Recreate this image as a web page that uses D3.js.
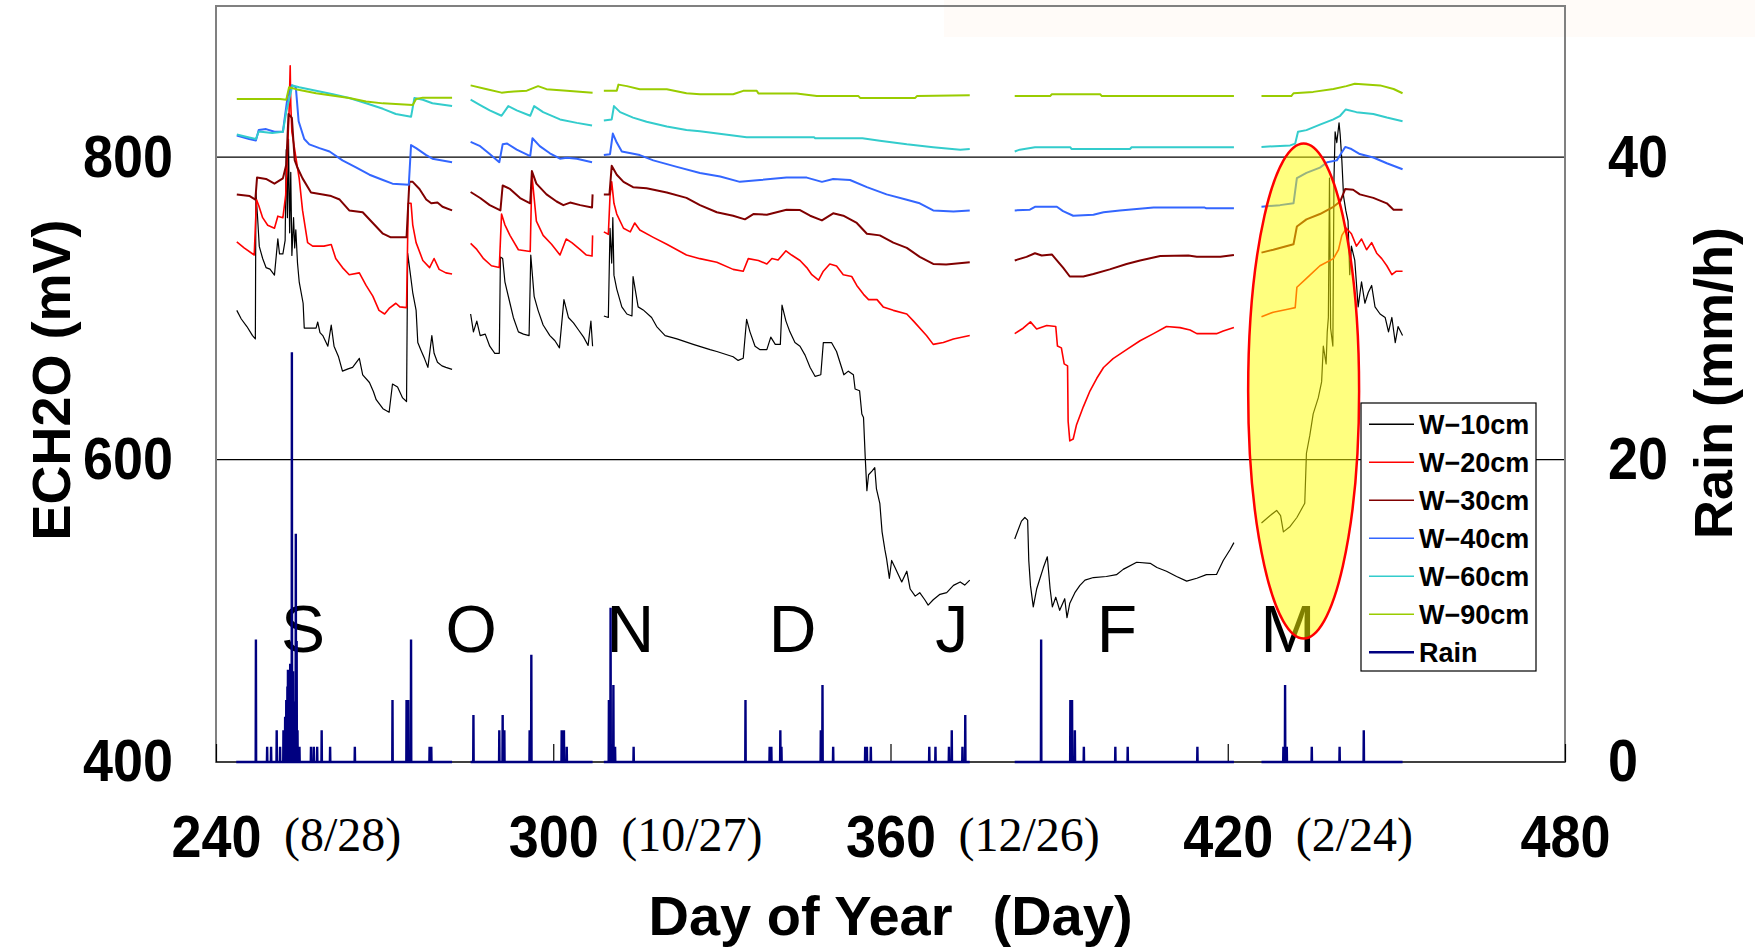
<!DOCTYPE html>
<html>
  <head>
    <meta charset="utf-8">
    <title>ECH2O and rain</title>
    <script src="https://d3js.org/d3.v7.min.js"></script>
    <style>
      body { margin: 0; background: white; }
      svg { display: block; }
    </style>
  </head>
  <body>
    <svg id="chart" width="1755" height="947"></svg>
    <script>
      // ---- data (day of year, mV) ; null = logger gap
      const w10 = [
        [243.7,698.7],[244.5,693],[245.5,688],[246.5,682],[247.0,679.8],[247.1,776.6],[247.4,760],[247.7,741],[248.3,733],[248.9,727],[249.6,726],[250.4,722],[251.0,746],[251.3,736],[251.9,736],[252.3,745],[252.5,805],[252.7,760],[252.9,812],[253.1,750],[253.3,790],[253.5,735],[253.8,760],[254.0,740],[254.2,752],[254.5,730],[254.8,717.6],[255.5,703.4],[255.7,687],[257.0,687],[257.8,687],[258.1,691],[258.5,684],[259.0,682],[259.9,675],[260.5,689],[261.0,675],[261.8,668],[262.5,658.5],[263.5,660],[264.3,661],[265.5,667],[266.1,656],[267.3,651],[268.0,645],[268.5,639.6],[269.7,633.7],[270.8,631.3],[271.4,650],[272.3,648],[273.2,640.8],[273.9,638.4],[274.1,736.5],[274.5,725],[275.0,710.5],[275.6,698.7],[275.9,677.4],[276.5,672],[277.1,666.8],[277.7,661],[278.4,682],[278.8,670.3],[279.4,664.4],[280.2,662],[280.9,661],[282.0,659.7],
        null,
        [285.3,696.3],[285.8,684.5],[286.4,691.6],[287.0,682],[287.9,683],[288.7,675],[289.6,670.3],[290.4,670.3],[290.6,734],[291.0,733],[291.4,717.6],[292.3,703.4],[292.9,694],[293.8,684.5],[294.7,683],[295.7,682],[296.0,735.3],[296.6,708],[297.3,698.7],[298.2,689],[299.4,682],[300.3,678.6],[301.1,673.9],[301.9,705.8],[302.7,694],[303.6,690.4],[304.5,685.7],[305.4,681],[306.2,675.5],[306.7,691.6],[307.0,675],
        null,
        [309.0,695],[309.8,694],[310.1,753],[310.4,730],[310.6,760],[310.8,722],[311.3,712.8],[312.2,701],[313.1,696.3],[314.0,695],[314.2,721],[315.1,701],[316.0,699],[317.5,694],[318.4,688],[319.9,682],[322.0,679.8],[324.9,676.2],[327.9,672.7],[329.1,671.5],[332.0,668],[332.9,665.6],[333.8,667],[334.4,692.8],[335.0,684.5],[335.9,675],[336.8,672.7],[338.0,672.7],[338.7,681],[339.5,676.2],[340.4,676.2],[340.7,702.2],[341.4,691.6],[342.1,684.5],[343.0,677.4],[343.9,675],[344.8,669.1],[345.7,660.9],[346.6,655],[347.6,656.1],[348.05,677.4],[349.5,677.4],[350.4,671.5],[351.3,660.9],[351.7,656.1],[352.5,658.5],[353.4,656.1],[353.7,646.7],[354.5,645.5],[354.9,630.2],[355.2,627.8],[355.5,601.8],[355.8,579.4],[356.1,590],[356.7,592.4],[357.2,594.7],[357.5,580.6],[358.1,571.1],[358.5,552.2],[359.0,540.4],[359.3,534.5],[359.8,521.5],[360.2,533.3],[360.8,528.6],[361.4,523.9],[362.0,519.1],[362.9,526.2],[363.5,514.4],[364.4,509.7],[365.2,512],[366.1,507.3],[366.7,503.8],[367.6,507.3],[368.8,510.9],[370.0,512],[371.2,516.8],[372.4,519.1],[373.2,517],[374.1,520.3],
        null,
        [382.1,547.5],[382.7,553.4],[383.3,559.3],[383.9,561.7],[384.4,560],[384.6,533.3],[384.9,516.8],[385.4,502.6],[386.0,514.4],[386.6,521.5],[387.2,528.6],[387.9,535.7],[388.4,514.4],[388.8,502.6],[389.4,509],[390.1,500.3],[391.0,508],[391.4,495.5],[391.9,505],[392.8,512],[393.7,516.8],[394.6,520.3],[396.1,522],[398.4,522.7],[400.2,523.9],[401.4,527.4],[403.8,532.1],[406.2,531.4],[407.4,528.6],[409.1,526.2],[410.9,522.7],[412.7,519.6],[414.5,521.5],[416.2,523.9],[418.0,524],[419.2,533.3],[420.4,540.4],[421.1,545.1],
        null,
        [426.0,558.1],[427.5,562.9],[428.7,566.4],[429.4,562.9],[429.9,552.2],[431.1,555.8],[432.3,561.7],[433.7,571.1],[434.0,604.2],[434.6,616],[435.2,630.2],[436.1,640.8],[436.7,651.4],[437.0,675.1],[437.5,663.3],[437.7,684.5],[437.9,693.9],[438.1,786.1],[438.3,686.9],[438.7,675.1],[438.9,786.1],[439.1,816.8],[439.4,809.7],[439.8,822.7],[440.0,815],[440.3,797.9],[440.6,774.3],[441.0,764.8],[441.4,757.7],[441.7,722.3],[442.0,741.2],[442.6,731.7],[443.2,701],[443.8,717.6],[444.4,703.4],[445.0,710.5],[445.6,715.2],[446.2,701],[447.1,696.3],[448.0,694],[448.6,684.5],[449.2,694],[449.8,677.4],[450.3,688],[451.1,682.1]
      ];
      const w20 = [
        [243.7,744],[245.0,740],[246.8,735.3],[247.2,772],[247.6,768],[248.3,760],[249.2,755],[250.4,753],[251.0,761],[251.9,760],[252.4,775],[252.75,807],[253.0,830],[253.2,860.5],[253.3,835],[253.5,816.8],[254.0,805],[254.2,800],[254.8,786],[255.4,764.8],[256.3,743.5],[257.2,741.2],[259.2,741.2],[260.5,742.3],[261.3,733],[262.5,727],[263.7,722.3],[265.5,723.5],[266.7,715.2],[267.9,708.1],[269.0,698.7],[270.0,696.3],[270.8,700],[272.0,703.4],[272.7,701],[273.9,700.5],[274.2,769.5],[274.7,769.5],[275.0,755.3],[275.6,743.5],[276.8,731.7],[278.0,727],[278.8,733],[279.7,725.8],[280.9,723.5],[282.0,722.8],
        null,
        [285.3,743],[286.4,739],[287.6,732.9],[289.0,728.2],[290.4,727],[290.8,762.4],[291.4,755.3],[292.3,748.3],[293.8,738.8],[295.9,737.6],[296.2,788.4],[297.0,757.7],[298.2,748.3],[299.7,742.4],[301.2,735.3],[302.3,745.9],[303.3,743.5],[304.8,738.8],[305.9,735.3],[306.9,734.6],[307.0,748.3],
        null,
        [309.0,750.6],[309.8,749],[310.1,774.3],[310.4,783.7],[310.8,769.5],[311.3,762.4],[312.5,753],[313.7,750.6],[314.5,756.5],[315.4,751.8],[317.8,747],[320.2,742.4],[323.7,735.3],[326.1,732.9],[329.1,730.5],[332.0,725.8],[333.8,724.6],[334.7,732.9],[336.5,731.7],[338.0,729.4],[338.9,733],[340.0,732],[341.4,738.1],[342.4,735.3],[343.9,731.7],[345.1,727],[346.0,722.3],[347.2,718.7],[348.05,724.6],[349.2,729.4],[350.4,728],[351.6,722.3],[353.1,721.1],[354.0,715.2],[355.2,709.3],[356.1,705.8],[357.6,705.8],[358.7,701],[360.5,698.7],[362.9,696.3],[364.1,691.6],[366.4,682.1],[367.6,676.2],[369.4,677.4],[371.2,679.8],[374.1,682.1],
        null,
        [382.1,683.3],[383.6,686.9],[384.9,691.1],[386.0,686.4],[387.8,688.7],[389.4,688],[389.7,675.1],[390.4,673.9],[390.9,663.3],[391.5,662],[391.6,625.4],[391.9,612.4],[392.5,613.6],[393.1,623.1],[394.3,634.9],[395.5,645.5],[396.7,653.8],[397.9,660.9],[399.6,666.8],[402.0,672.7],[404.4,678.6],[406.8,683.3],[409.1,688],[411.5,687.3],[413.3,685.7],[414.5,683.3],[418.0,683.3],[419.2,685],[421.1,687.3],
        null,
        [426.0,694.4],[428.1,697.5],[431.1,699.8],[432.0,700.5],[432.3,714],[434.0,719.9],[436.4,728.2],[438.8,732.9],[439.7,738.8],[440.3,748.3],[441.1,753],[442.0,749.4],[442.9,741.2],[443.8,745.9],[444.7,738.8],[445.6,743.5],[446.5,736.5],[447.4,732.9],[448.3,728.2],[449.2,722.3],[450.0,724.6],[451.1,724.6]
      ];
      const w30 = [
        [243.7,775.4],[246.0,774.3],[247.0,772],[247.3,786.5],[248.9,785.6],[250.4,782.5],[251.9,786],[252.5,795],[252.9,828.6],[253.5,826],[254.0,798],[254.5,793],[255.4,786],[256.9,776.6],[259.0,775.4],[260.5,774.3],[262.0,772],[263.7,764.8],[266.1,763.6],[267.9,756.5],[269.7,749.4],[271.1,747],[273.9,747],[274.4,783.7],[275.0,783.7],[276.2,779],[277.4,772],[278.3,769.5],[279.4,770],[280.3,767.2],[282.0,764.8],
        null,
        [285.3,777],[287.0,773],[288.7,768.3],[290.6,764.8],[291.0,781.3],[292.3,779],[294.1,773],[295.9,769.5],[296.2,790.8],[297.0,782.5],[298.8,775.4],[300.6,770.7],[301.8,768.3],[303.0,770],[304.8,768.3],[306.9,766.7],[307.0,775.4],
        null,
        [309.0,775.4],[310.0,775.4],[310.4,794.3],[311.3,788.4],[312.5,783.7],[314.2,780.2],[316.6,779.5],[320.2,776.6],[323.7,773.1],[326.1,768.3],[329.1,763.6],[332.0,761.3],[334.1,758.9],[335.6,762.4],[338.0,762],[341.5,765.3],[343.9,765],[345.7,761.3],[347.8,758.2],[349.8,762.9],[351.6,761.3],[354.0,756.5],[355.8,749.4],[358.1,748.3],[360.5,743.5],[362.9,740],[365.2,734.1],[367.6,729.4],[369.9,729],[374.1,730.5],
        null,
        [382.1,731.7],[384.2,734.1],[385.7,736.5],[386.9,735],[388.7,735.7],[389.9,730.5],[390.7,727],[391.9,721.1],[394.3,721.1],[396.1,722.7],[399.0,725.8],[402.0,729.4],[404.4,731.7],[408.0,734.6],[413.0,735],[414.5,734.1],[418.7,734.1],[421.1,735.3],
        null,
        [426.0,736.9],[428.1,738.8],[431.7,742.4],[432.3,754.2],[434.0,758.9],[436.4,762.4],[438.8,767.2],[440.0,770.7],[440.9,779],[442.3,778.5],[443.5,775.4],[445.9,773.1],[448.3,769.5],[449.5,765.3],[451.1,765.3]
      ];
      const w40 = [
        [243.7,814.4],[245.9,812],[247.1,811],[247.6,818],[248.9,818.6],[250.4,816.8],[251.9,816.8],[252.75,840.4],[253.5,847.5],[254.2,846.3],[254.7,823.8],[255.7,812],[256.6,808.5],[258.4,806],[260.2,803.8],[262.5,797.9],[264.9,793.2],[267.3,788.4],[269.7,784.9],[271.4,782.5],[274.3,781.8],[274.7,808],[275.6,806],[277.4,801.4],[278.5,799],[282.0,796.7],
        null,
        [285.3,810.1],[287.0,807.3],[288.7,802.1],[290.4,796.7],[291.0,808.5],[291.8,809],[293.5,805],[295.9,800.7],[296.3,812.5],[297.6,807.3],[299.4,802.6],[301.2,799],[302.4,799.7],[304.2,799],[306.9,796.7],
        null,
        [309.0,801.4],[310.1,802],[310.6,815.6],[311.3,809.7],[312.2,803.8],[315.4,801.4],[317.8,797.9],[322.0,793.6],[326.1,789.6],[329.7,787.2],[333.2,783.7],[336.8,784.9],[341.5,786.5],[345.1,786.5],[347.8,783.7],[349.8,785.6],[352.8,784.9],[355.8,780.2],[359.3,775.4],[362.9,771.9],[365.2,769.5],[367.6,764.8],[371.2,764.1],[374.1,764.8],
        null,
        [382.1,764.8],[384.8,765.3],[385.7,767.2],[389.6,767.2],[390.7,764.3],[392.5,761.3],[396.1,762],[397.9,763.6],[400.8,764.8],[406.8,766.7],[415.9,766.7],[416.2,766.2],[421.1,766.2],
        null,
        [426.0,767.2],[429.3,768.3],[431.7,769.5],[432.3,786.1],[434.0,789.6],[436.4,793.1],[437.7,796.7],[439.4,797.9],[440.0,801.4],[440.9,806.8],[442.0,805.4],[443.5,802.1],[445.9,799.8],[448.3,796],[451.1,792]
      ];
      const w60 = [
        [243.7,815],[245.9,813],[247.1,812],[247.6,817],[250.0,816],[251.9,816.8],[252.5,830],[253.6,847.5],[254.8,846.3],[257.8,844],[260.8,841.6],[263.7,839.2],[266.7,835.7],[269.7,832],[272.0,828.6],[274.7,826.7],[275.3,839.2],[276.8,838],[278.5,835.7],[282.0,833.8],
        null,
        [285.3,838],[287.0,834.5],[288.7,831],[290.8,827.4],[292.0,833.8],[293.5,831],[295.9,827.4],[296.6,833.8],[298.2,829.8],[301.2,825],[304.2,822.7],[306.9,821],
        null,
        [309.0,824.3],[310.4,825],[310.8,833.8],[311.9,829.8],[314.2,826.2],[316.6,823.4],[320.2,820.3],[323.7,818],[326.1,817.2],[332.0,814.4],[334.4,813.2],[346.4,813.2],[346.6,812.5],[355.0,812.5],[358.1,810.9],[362.9,808.5],[367.6,806.6],[372.4,805],[374.1,805.4],
        null,
        [382.1,803.8],[383.0,805],[385.7,806.6],[392.0,806.6],[392.2,805.4],[402.6,805.4],[402.9,806.6],[421.1,806.6],
        null,
        [426.0,806.8],[431.1,807.8],[432.0,809],[432.5,816.8],[434.0,817.9],[436.4,821.5],[438.8,825],[440.0,827.4],[441.0,831.6],[442.9,829.8],[445.9,828.6],[448.3,826.2],[451.1,823.8]
      ];
      const w90 = [
        [243.7,838.5],[251.4,838.5],[252.5,838],[253.0,846.3],[254.2,845],[257.8,842.3],[263.7,839.2],[266.7,836.8],[269.7,835.6],[275.0,834.5],[275.6,838.5],[276.8,839.4],[282.0,839.4],
        null,
        [285.3,847.5],[288.2,845],[290.8,842.7],[293.0,843.5],[295.3,844],[297.3,847],[298.8,845],[302.4,844],[307.0,842.7],
        null,
        [309.0,844],[311.3,844],[311.6,848],[313.1,847],[315.4,845],[320.2,845],[323.7,842.3],[326.1,841.6],[332.0,841.6],[333.8,843.9],[336.2,843.9],[336.5,842.2],[343.3,842.2],[346.9,840.4],[354.3,840.4],[354.6,839.2],[364.4,839.2],[364.7,840.4],[374.1,840.9],
        null,
        [382.1,840.4],[388.4,840.4],[388.7,841.6],[397.3,841.6],[397.6,840.4],[421.1,840.4],
        null,
        [426.0,840.4],[431.3,840.4],[431.7,842.3],[435.2,843.2],[438.8,845.1],[441.1,847],[442.6,848.6],[447.1,847.5],[449.5,845.1],[451.1,842.3]
      ];
      // rain events (day, mm/h) and logged periods
      const rain = [
        [247.1,8.1],[249.1,1.0],[249.8,1.0],[250.8,2.1],[251.4,1.0],
        [252.0,2.1],[252.3,3.0],[252.5,4.1],[252.7,5.0],[252.8,6.1],[253.0,4.0],[253.2,6.5],[253.5,27.1],[253.7,6.0],[253.9,4.0],[254.2,15.1],[254.35,8.0],[254.5,2.1],[254.85,1.0],
        [256.9,1.0],[257.4,1.0],[258.0,1.0],[258.8,2.1],[260.3,1.0],[264.7,1.0],
        [271.4,4.1],[273.9,4.1],[274.2,4.1],[274.7,8.1],[278.0,1.0],[278.3,1.0],
        [285.8,3.1],[290.4,2.1],[291.0,3.1],[291.3,2.1],[295.8,2.1],[296.1,7.1],[301.5,2.1],[301.9,2.1],[302.4,1.0],
        [309.9,4.1],[310.2,10.2],[310.7,5.1],[311.0,1.0],[314.3,1.0],
        [334.2,4.1],[338.5,1.0],[338.8,1.0],[340.4,2.1],[340.6,1.0],[347.6,2.1],[347.9,5.1],[349.8,1.0],
        [355.5,1.0],[355.8,1.0],[356.5,1.0],[366.9,1.0],[368.0,1.0],[370.4,1.0],[370.9,2.1],[372.8,1.0],[373.3,3.1],
        [386.8,8.1],[392.0,4.1],[392.3,4.1],[392.8,2.1],[394.4,1.0],[400.0,1.0],[402.2,1.0],[414.6,1.0],
        [429.9,1.0],[430.2,5.1],[430.5,1.0],[434.95,1.0],[439.9,1.0],[444.2,2.1]
      ];
      const segments = [[243.6,282.0],[285.3,307.0],[309.0,374.1],[382.1,421.1],[426.0,451.1]];

      // axis ticks and labels
      const xTicks = [240, 300, 360, 420, 480];
      const dateLabels = ["(8/28)", "(10/27)", "(12/26)", "(2/24)", ""];
      const leftTicks = [400, 600, 800];
      const rightTicks = [0, 20, 40];
      const gridValues = [600, 800];
      const months = ["S", "O", "N", "D", "J", "F", "M"];
      const monthDays = [255.5, 285.4, 313.7, 342.6, 370.9, 400.3, 430.7];
      const seriesNames = ["W−10cm", "W−20cm", "W−30cm", "W−40cm", "W−60cm", "W−90cm", "Rain"];
      const seriesColors = ["#000000", "#FF0000", "#800000", "#3366FF", "#33CCCC", "#99CC00", "#000080"];
      // highlighted zone (day, mV centre and radii)
      const highlight = { day: 433.5, mV: 645.4, rDay: 9.87, rMV: 163.7 };

      const sans = "'Liberation Sans', Arial, sans-serif";
      const serif = "'Liberation Serif', 'Times New Roman', serif";
      const plot = { left: 216, right: 1565, top: 6, bottom: 762 };

      const svg = d3.select("#chart");
      const x = d3.scaleLinear().domain([240, 480]).range([plot.left, plot.right]);
      const y = d3.scaleLinear().domain([400, 900]).range([plot.bottom, plot.top]);
      const yR = d3.scaleLinear().domain([0, 50]).range([plot.bottom, plot.top]);

      // faint shaded strip at top
      svg.append("rect")
        .attr("x", 944).attr("y", 0)
        .attr("width", 811).attr("height", 37)
        .attr("fill", "#FFFBF8");

      // gridlines
      svg.selectAll(".grid")
        .data(gridValues)
        .enter().append("line")
          .attr("x1", plot.left).attr("x2", plot.right)
          .attr("y1", d => y(d)).attr("y2", d => y(d))
          .attr("stroke", "#000").attr("stroke-width", 1.3);

      // frame
      svg.append("rect")
        .attr("x", plot.left).attr("y", plot.top)
        .attr("width", plot.right - plot.left).attr("height", plot.bottom - plot.top)
        .attr("fill", "none").attr("stroke", "#808080").attr("stroke-width", 2);
      svg.append("line")
        .attr("x1", plot.left).attr("x2", plot.right)
        .attr("y1", plot.bottom).attr("y2", plot.bottom)
        .attr("stroke", "#404040").attr("stroke-width", 2);

      // bottom axis: inward ticks, bold numbers
      const xAxis = d3.axisBottom(x)
        .tickValues(xTicks)
        .tickSizeInner(-18).tickSizeOuter(0)
        .tickPadding(53)
        .tickFormat(d3.format("d"));
      const gx = svg.append("g")
        .attr("transform", "translate(0," + plot.bottom + ")")
        .call(xAxis);
      gx.select(".domain").remove();
      gx.selectAll("line").attr("stroke", "#000").attr("stroke-width", 1.2);

      // left and right value axes
      const gl = svg.append("g")
        .attr("transform", "translate(" + plot.left + ",0)")
        .call(d3.axisLeft(y).tickValues(leftTicks).tickSize(0).tickPadding(43));
      const gr = svg.append("g")
        .attr("transform", "translate(" + plot.right + ",0)")
        .call(d3.axisRight(yR).tickValues(rightTicks).tickSize(0).tickPadding(43));
      [gl, gr].forEach(g => g.select(".domain").remove());
      [gx, gl, gr].forEach(g => {
        g.attr("font-family", sans).attr("font-size", 59);
        g.selectAll("text")
          .attr("font-weight", "bold")
          .attr("fill", "#000")
          .attr("textLength", d => String(d).length * 30)
          .attr("lengthAdjust", "spacingAndGlyphs");
      });

      // date labels next to day ticks
      svg.selectAll(".date")
        .data(xTicks.map((t, i) => ({ t: t, label: dateLabels[i] })).filter(d => d.label))
        .enter().append("text")
          .attr("x", d => x(d.t) + 68)
          .attr("y", 851)
          .attr("font-family", serif)
          .attr("font-size", 48)
          .text(d => d.label);

      // axis titles
      svg.append("text")
        .attr("x", (plot.left + plot.right) / 2)
        .attr("y", 935)
        .attr("text-anchor", "middle")
        .attr("font-family", sans).attr("font-size", 56).attr("font-weight", "bold")
        .text("Day of Year")
        .append("tspan").attr("dx", 40).text("(Day)");
      svg.append("text")
        .attr("transform", "translate(70,380) rotate(-90)")
        .attr("text-anchor", "middle")
        .attr("font-family", sans).attr("font-size", 54).attr("font-weight", "bold")
        .text("ECH2O (mV)");
      svg.append("text")
        .attr("transform", "translate(1732,383) rotate(-90)")
        .attr("text-anchor", "middle")
        .attr("font-family", sans).attr("font-size", 54).attr("font-weight", "bold")
        .text("Rain (mm/h)");

      // month letters
      svg.selectAll(".month")
        .data(months)
        .enter().append("text")
          .attr("x", (d, i) => x(monthDays[i]))
          .attr("y", 652)
          .attr("text-anchor", "middle")
          .attr("font-family", sans).attr("font-size", 66)
          .text(d => d);

      // soil moisture lines
      const line = d3.line()
        .defined(d => d !== null)
        .x(d => x(d[0]))
        .y(d => y(d[1]));
      const series = [w10, w20, w30, w40, w60, w90];
      const widths = [1.2, 1.6, 2, 2, 2, 2];
      series.forEach((s, i) => {
        svg.append("path")
          .datum(s)
          .attr("d", line)
          .attr("fill", "none")
          .attr("stroke", seriesColors[i])
          .attr("stroke-width", widths[i])
          .attr("stroke-linejoin", "round");
      });

      // rain spikes along each logged period
      const rainPts = [];
      segments.forEach(seg => {
        rainPts.push([seg[0], 0]);
        rain.filter(r => r[0] >= seg[0] && r[0] <= seg[1]).forEach(r => {
          rainPts.push([r[0] - 0.04, 0], [r[0], r[1]], [r[0] + 0.04, 0]);
        });
        rainPts.push([seg[1], 0], null);
      });
      svg.append("path")
        .datum(rainPts)
        .attr("d", d3.line().defined(d => d !== null).x(d => x(d[0])).y(d => yR(d[1])))
        .attr("fill", "none")
        .attr("stroke", seriesColors[6])
        .attr("stroke-width", 2.4);

      // highlighted ellipse
      svg.append("ellipse")
        .attr("cx", x(highlight.day))
        .attr("cy", y(highlight.mV))
        .attr("rx", x(highlight.day + highlight.rDay) - x(highlight.day))
        .attr("ry", y(highlight.mV - highlight.rMV) - y(highlight.mV))
        .attr("fill", "#FFFF00").attr("fill-opacity", 0.5)
        .attr("stroke", "#FF0000").attr("stroke-width", 2.5);

      // legend
      const legend = svg.append("g").attr("transform", "translate(1361,403)");
      legend.append("rect")
        .attr("width", 175).attr("height", 268)
        .attr("fill", "white").attr("stroke", "#000").attr("stroke-width", 1.2);
      const items = legend.selectAll(".item")
        .data(seriesNames)
        .enter().append("g")
          .attr("transform", (d, i) => "translate(0," + (21.3 + i * 38) + ")");
      items.append("line")
        .attr("x1", 8).attr("x2", 53)
        .attr("stroke", (d, i) => seriesColors[i])
        .attr("stroke-width", (d, i) => i === 6 ? 2.4 : 1.6);
      items.append("text")
        .attr("x", 58).attr("dy", "0.36em")
        .attr("font-family", sans).attr("font-size", 27).attr("font-weight", "bold")
        .text(d => d);
    </script>
  </body>
</html>
